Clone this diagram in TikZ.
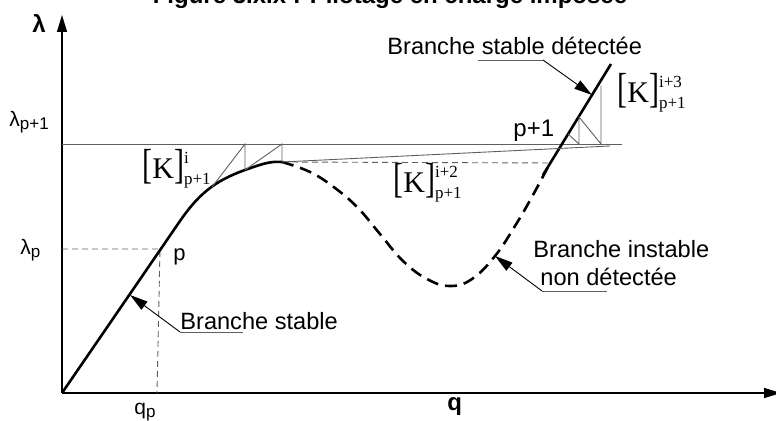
\documentclass[tikz,border=0pt]{standalone}
\definecolor{pilotGray}{RGB}{95,95,95}
\usepackage{fontspec}
\setmainfont{Liberation Sans}
\newfontfamily\timesfont{Liberation Serif}
\usepackage{graphicx}
\usepackage{tikz}
\usetikzlibrary{arrows.meta,positioning}

\newcommand{\Kmat}[2]{{\timesfont\fontsize{15}{15}\selectfont
  \scalebox{1}[1.4]{[}K\scalebox{1}[1.4]{]}%
  \fontsize{8.5}{8.5}\selectfont
  \rlap{\raisebox{7.5pt}{#1}}\raisebox{-3pt}{#2}}}
\newcommand{\sublow}[1]{\raisebox{-1.5pt}{\fontsize{8.5}{10}\selectfont #1}}

\begin{document}
\begin{tikzpicture}[x=0.5pt, y=-0.5pt,
    axis/.style={line width=0.75pt, -{Triangle[length=8.5pt,width=5pt]}},
    branch/.style={line width=1.3pt},
    iterline/.style={line width=0.45pt, pilotGray},
    guide/.style={line width=0.45pt, pilotGray, dash pattern=on 3pt off 2pt},
    leader/.style={line width=0.45pt, -{Triangle[length=9pt,width=5pt]}},
    lbl/.style={inner sep=0pt, anchor=base west, font=\fontsize{11.8}{14}\selectfont},
    small/.style={inner sep=0pt, anchor=base west, font=\fontsize{10.5}{12}\selectfont}]
  \useasboundingbox (0,0) rectangle (776,421);

  \coordinate (O) at (62,393);
  \coordinate (ytip) at (62,15);
  \coordinate (xtip) at (781,393);
  \coordinate (lamTop) at (62,144);
  \coordinate (lamTopEnd) at (622,144);
  \coordinate (lamLow) at (62,249);
  \coordinate (ptPos) at (160,249);
  \coordinate (qFoot) at (157,393);
  \coordinate (peak) at (282,162);
  \coordinate (peakEnd) at (550,163);

  \node[anchor=base, inner sep=0pt, font=\bfseries\fontsize{12}{14}\selectfont] (title)
    at (390,4) {Figure 3.x.x : Pilotage en charge imposée};

  % axes
  \draw[axis] (O) -- (ytip);
  \draw[axis] (O) -- (xtip);
  \node[lbl, font=\bfseries\fontsize{12}{14}\selectfont] (lam) at (32,33) {λ};
  \node[lbl, font=\bfseries\fontsize{12}{14}\selectfont] (qax) at (447,411) {q};
  \node[small] (lamPone) at (9,127) {λ\sublow{p+1}};
  \node[small] (lamP) at (20,255) {λ\sublow{p}};
  \node[small] (qP) at (134,415) {q\sublow{p}};

  % guides
  \draw[iterline] (lamTop) -- (lamTopEnd);
  \draw[guide] (lamLow) -- (ptPos) -- (qFoot);
  \draw[guide] (peak) -- (peakEnd);

  % branches
  \draw[branch] (O) -- (180,221) .. controls (198,195) and (214,181) .. (245,170)
    .. controls (262,164) and (270,161) .. (peak);
  \draw[branch, dash pattern=on 6pt off 3.5pt] plot[smooth, tension=0.7] coordinates
    {(282,162) (310,172) (335,188) (358,208) (380,234) (403,261) (427,279)
     (450,286) (472,279) (495,256) (515,226) (533,195) (550,163)};
  \draw[branch] (543,175) -- (611,64);

  % iterations
  \draw[iterline] (212,187) -- (245,144) -- (245,170) -- (282,144) -- (peak);
  \draw[iterline] (peak) -- (610,146);
  \draw[iterline] (568,134) -- (579,144) -- (579,117) -- (601,144) -- (601,86);

  \node[inner sep=0pt, anchor=base west] (Ki) at (142,179) {\Kmat{i}{p+1}};
  \node[inner sep=0pt, anchor=base west] (Kii) at (393,193) {\Kmat{i+2}{p+1}};
  \node[inner sep=0pt, anchor=base west] (Kiii) at (617,103) {\Kmat{i+3}{p+1}};
  \node[lbl, font=\fontsize{11}{13}\selectfont] (ptP) at (173,261) {p};
  \node[lbl, font=\fontsize{12}{14}\selectfont] (ptPone) at (513,137) {p+1};

  % labels and leaders
  \node[lbl] (stabLbl) at (180,330) {Branche stable};
  \node[lbl] (detLbl) at (387,55) {Branche stable détectée};
  \node[lbl] (instA) at (533,258) {Branche instable};
  \node[lbl] (instB) at (540,286) {non détectée};

  \coordinate (uStabA) at (180,332);
  \coordinate (uStabB) at (243,332);
  \coordinate (tipStab) at (130,295);
  \coordinate (uDetA) at (478,60);
  \coordinate (uDetB) at (543,60);
  \coordinate (tipDet) at (592,95);
  \coordinate (uInstA) at (542,291);
  \coordinate (uInstB) at (607,291);
  \coordinate (tipInst) at (495,256);

  \draw[iterline] (uStabA) -- (uStabB);
  \draw[leader] (uStabA) -- (tipStab);
  \draw[iterline] (uDetA) -- (uDetB);
  \draw[leader] (uDetB) -- (tipDet);
  \draw[iterline] (uInstA) -- (uInstB);
  \draw[leader] (uInstA) -- (tipInst);
\end{tikzpicture}
\end{document}
